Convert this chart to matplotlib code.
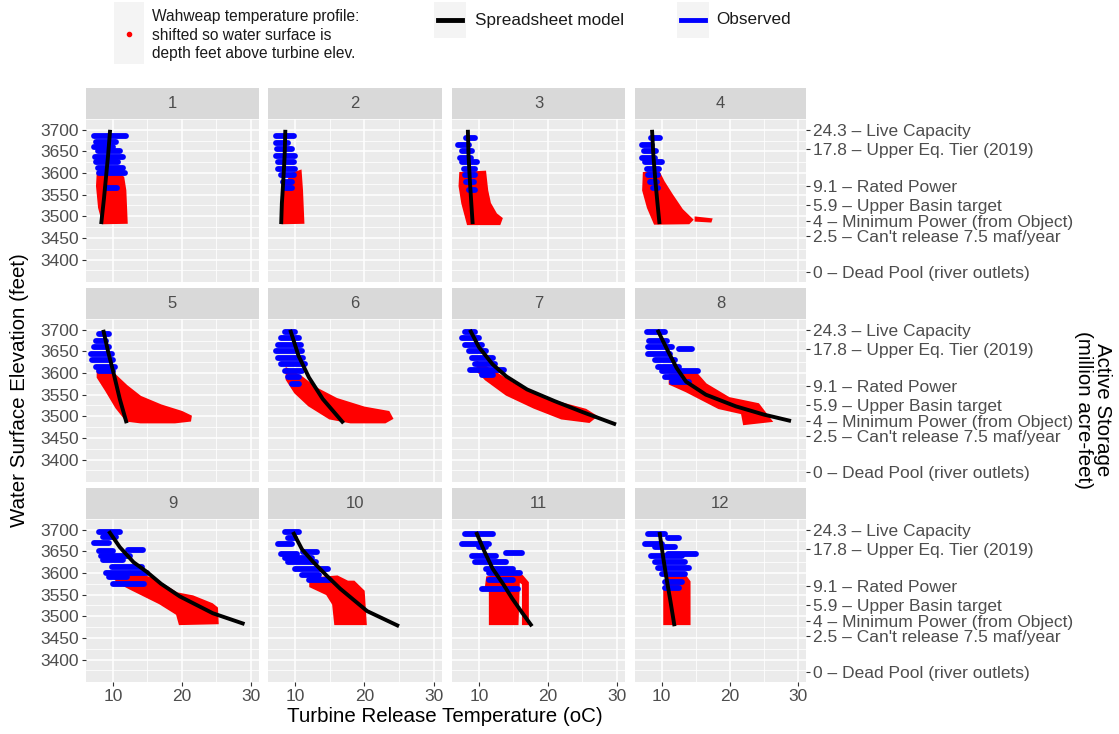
import matplotlib
matplotlib.use("Agg")
import matplotlib.pyplot as plt
from matplotlib.patches import Polygon, Rectangle
from matplotlib.lines import Line2D

plt.rcParams["font.family"] = ["Liberation Sans", "DejaVu Sans"]

W, H = 1119, 734

# spreadsheet model curve per month: (temperature oC, elevation ft)
MODEL = {
    1: [(9.6, 3700), (9.3, 3640), (9.0, 3590), (8.7, 3540), (8.3, 3482)],
    2: [(8.6, 3700), (8.5, 3640), (8.3, 3580), (8.1, 3530), (8.0, 3482)],
    3: [(8.4, 3700), (8.5, 3640), (8.7, 3580), (8.9, 3530), (9.1, 3482)],
    4: [(8.6, 3700), (8.8, 3640), (9.1, 3580), (9.4, 3530), (9.7, 3482)],
    5: [(8.6, 3700), (9.3, 3650), (10.1, 3600), (11.0, 3540), (12.0, 3484)],
    6: [(9.3, 3700), (10.5, 3640), (12.0, 3590), (14.0, 3540), (17.0, 3484)],
    7: [(8.7, 3700), (10.0, 3660), (12.0, 3620), (14.0, 3592), (17.0, 3562),
        (21.0, 3535), (25.0, 3510), (29.9, 3481)],
    8: [(9.4, 3700), (10.8, 3655), (12.2, 3612), (13.6, 3580), (16.5, 3550),
        (20.9, 3523), (25.0, 3504), (29.0, 3489)],
    9: [(9.4, 3697), (11.0, 3660), (13.0, 3625), (14.9, 3603), (17.0, 3575),
        (19.7, 3546), (24.5, 3507), (29.1, 3482)],
    10: [(9.7, 3695), (11.0, 3655), (12.6, 3626), (14.5, 3595), (16.5, 3564),
         (20.4, 3512), (25.0, 3477)],
    11: [(9.6, 3695), (10.8, 3650), (12.0, 3610), (13.5, 3575), (14.8, 3542),
         (16.2, 3510), (17.7, 3477)],
    12: [(9.7, 3695), (10.2, 3640), (10.7, 3590), (11.3, 3535), (11.9, 3477)],
}

# Wahweap profile cloud outlines per month
PROFILE = {
    1: [[(7.8, 3598), (10.5, 3600), (11.5, 3590), (11.8, 3560), (12.0, 3485),
         (8.6, 3484), (8.0, 3520), (7.7, 3570)]],
    2: [[(8.3, 3560), (9.5, 3598), (10.8, 3605), (11.0, 3560), (11.2, 3485),
         (8.2, 3484)]],
    3: [[(7.3, 3600), (10.9, 3603), (11.2, 3560), (11.6, 3530), (12.5, 3505),
         (13.3, 3495), (13.0, 3482), (8.4, 3482), (7.6, 3530), (7.2, 3570)]],
    4: [[(7.4, 3600), (9.6, 3602), (10.3, 3580), (11.5, 3550), (13.0, 3515),
         (14.5, 3492), (14.0, 3484), (9.0, 3483), (8.0, 3520), (7.3, 3560)],
        [(15.0, 3497), (17.3, 3493), (17.2, 3488), (15.0, 3490)]],
    5: [[(7.8, 3615), (10.0, 3600), (12.0, 3570), (14.0, 3545), (17.0, 3525),
         (20.0, 3510), (21.3, 3500), (21.2, 3490), (19.0, 3486), (14.0, 3486),
         (12.0, 3490), (10.5, 3520), (9.0, 3560), (7.8, 3590)]],
    6: [[(8.8, 3610), (11.0, 3590), (13.0, 3565), (16.0, 3540), (20.0, 3520),
         (23.5, 3510), (24.0, 3495), (23.0, 3486), (18.0, 3486), (15.0, 3495),
         (12.0, 3525), (10.0, 3555), (8.8, 3585)]],
    7: [[(9.8, 3625), (12.0, 3605), (15.0, 3575), (18.0, 3550), (22.0, 3530),
         (25.5, 3515), (27.0, 3500), (26.0, 3487), (22.0, 3495), (18.0, 3520),
         (14.0, 3550), (11.0, 3585), (9.8, 3605)]],
    8: [[(11.2, 3596), (15.1, 3599), (16.5, 3574), (19.9, 3542), (24.2, 3528),
         (26.1, 3489), (22.1, 3482), (21.8, 3507), (18.4, 3519), (13.6, 3558),
         (11.2, 3575)]],
    9: [[(10.0, 3599), (12.5, 3603), (16.1, 3585), (19.3, 3553), (21.6, 3546),
         (24.4, 3528), (25.1, 3519), (25.2, 3484), (19.7, 3482), (19.3, 3505),
         (16.8, 3530), (12.5, 3564), (10.6, 3580)]],
    10: [[(12.2, 3587), (16.1, 3592), (17.6, 3580), (18.5, 3580), (19.9, 3558),
          (20.2, 3482), (15.8, 3482), (15.5, 3528), (14.6, 3551), (12.2, 3569)]],
    11: [[(11.6, 3482), (11.6, 3560), (11.0, 3565), (11.2, 3590), (13.0, 3593),
          (16.3, 3593), (17.1, 3578), (17.1, 3482), (16.4, 3482), (16.4, 3575),
          (15.8, 3582), (15.6, 3482)]],
    12: [[(10.4, 3482), (10.4, 3560), (10.8, 3590), (13.5, 3593), (14.1, 3580),
          (14.1, 3482)]],
}

# observed releases per month: (temp from, temp to, elevation)
OBSERVED = {
    1: [(7.3, 11.9, 3685), (7.5, 10.5, 3672), (7.3, 10.0, 3660), (7.8, 11.0, 3650),
        (7.4, 11.5, 3638), (7.6, 10.8, 3625), (7.8, 11.5, 3612), (8.0, 11.8, 3600),
        (9.0, 10.6, 3565)],
    2: [(7.3, 9.8, 3685), (7.2, 9.0, 3670), (7.4, 9.6, 3655), (7.3, 10.0, 3640),
        (7.5, 9.8, 3625), (7.6, 10.0, 3610), (8.0, 9.8, 3595), (8.3, 9.6, 3580),
        (8.5, 9.5, 3565)],
    3: [(8.2, 9.5, 3680), (7.0, 8.5, 3665), (7.5, 9.0, 3650), (7.2, 8.8, 3635),
        (7.5, 9.7, 3625), (7.8, 9.5, 3610), (8.0, 9.4, 3595), (8.2, 9.3, 3580),
        (8.6, 9.4, 3560)],
    4: [(8.4, 9.8, 3680), (7.1, 8.6, 3665), (7.4, 9.2, 3650), (7.2, 9.0, 3635),
        (7.5, 10.0, 3625), (7.8, 9.6, 3610), (8.0, 9.5, 3595), (8.3, 9.4, 3580),
        (8.7, 9.5, 3565)],
    5: [(8.0, 9.5, 3690), (7.5, 9.0, 3675), (7.2, 9.5, 3660), (6.8, 9.8, 3645),
        (7.0, 10.0, 3630), (7.5, 10.3, 3615), (8.0, 10.0, 3605)],
    6: [(8.5, 10.0, 3695), (8.0, 10.5, 3680), (7.5, 10.8, 3665), (7.3, 11.0, 3650),
        (7.6, 11.2, 3635), (8.0, 11.5, 3620), (8.5, 11.0, 3605), (9.0, 10.5, 3590),
        (9.5, 10.5, 3575)],
    7: [(8.0, 9.5, 3695), (7.6, 10.0, 3680), (8.0, 10.5, 3665), (8.5, 11.0, 3650),
        (9.0, 12.0, 3635), (9.5, 12.3, 3620), (8.7, 13.7, 3608), (10.5, 12.0, 3595)],
    8: [(7.8, 10.5, 3695), (8.2, 10.8, 3675), (8.0, 11.5, 3660), (12.5, 14.5, 3655),
        (8.0, 11.2, 3645), (9.0, 12.0, 3630), (9.5, 12.5, 3615), (10.0, 15.3, 3605),
        (10.5, 12.5, 3590), (11.5, 14.0, 3580)],
    9: [(8.0, 11.0, 3695), (8.5, 10.5, 3683), (7.3, 9.5, 3670), (12.2, 14.4, 3654),
        (8.0, 10.0, 3650), (8.3, 12.5, 3640), (8.6, 11.5, 3630), (9.8, 14.2, 3615),
        (9.0, 15.0, 3600), (9.5, 12.0, 3590), (10.0, 14.5, 3575)],
    10: [(8.5, 10.5, 3695), (9.0, 10.0, 3680), (7.5, 9.5, 3668), (11.2, 13.2, 3649),
         (8.0, 10.3, 3645), (8.5, 12.5, 3635), (9.0, 13.0, 3625), (10.0, 14.8, 3610),
         (11.0, 13.5, 3595), (12.0, 15.0, 3585)],
    11: [(8.0, 12.0, 3690), (7.5, 11.5, 3668), (10.0, 11.0, 3660), (13.9, 16.2, 3647),
         (9.0, 12.5, 3640), (9.5, 14.0, 3625), (11.0, 15.0, 3610), (11.5, 16.0, 3600),
         (11.5, 15.0, 3585), (10.4, 15.7, 3564)],
    12: [(8.0, 10.5, 3690), (11.0, 12.5, 3680), (7.5, 10.0, 3668), (9.0, 12.0, 3660),
         (10.9, 15.1, 3645), (8.5, 13.0, 3640), (9.0, 13.5, 3625), (9.5, 14.0, 3612),
         (10.0, 13.5, 3598), (10.5, 13.0, 3580), (10.5, 12.5, 3565)],
}

# secondary axis: storage levels
STORAGE_ELEV = [3700, 3655, 3570, 3525, 3490, 3455, 3370]
STORAGE_LABELS = ["24.3 \u2013 Live Capacity", "17.8 \u2013 Upper Eq. Tier (2019)",
                  "9.1 \u2013 Rated Power", "5.9 \u2013 Upper Basin target",
                  "4 \u2013 Minimum Power (from Object)",
                  "2.5 \u2013 Can't release 7.5 maf/year",
                  "0 \u2013 Dead Pool (river outlets)"]

RED, BLUE = "#FF0000", "#0000FF"
PANEL_BG, STRIP_BG = "#EBEBEB", "#D9D9D9"
XLIM, YLIM = (6.1, 31.2), (3348, 3720)
COLS = [(86, 259), (268, 442), (452, 625), (635, 806)]
ROWS = [(88, 119, 282), (288, 319, 482), (488, 519, 682)]


def box(x0, y0, x1, y1):
    return [x0 / W, 1 - y1 / H, (x1 - x0) / W, (y1 - y0) / H]


fig = plt.figure(figsize=(W / 100, H / 100), dpi=100)

for i, m in enumerate(range(1, 13)):
    r, c = divmod(i, 4)
    x0, x1 = COLS[c]
    st, y0, y1 = ROWS[r]
    ax = fig.add_axes(box(x0, y0, x1, y1))
    ax.set_facecolor(PANEL_BG)
    ax.set_xlim(*XLIM); ax.set_ylim(*YLIM)
    for s in ax.spines.values():
        s.set_visible(False)
    ax.set_xticks([10, 20, 30]); ax.set_xticks([15, 25], minor=True)
    ax.set_yticks(range(3400, 3701, 50)); ax.set_yticks(range(3375, 3726, 50), minor=True)
    ax.grid(which="major", color="white", lw=1.1)
    ax.grid(which="minor", color="white", lw=0.55)
    ax.set_axisbelow(True)
    ax.tick_params(which="minor", length=0)
    ax.tick_params(which="major", length=3, color="#333333", labelcolor="#4D4D4D",
                   labelsize=12.5, pad=2)
    if r < 2:
        ax.tick_params(axis="x", length=0, labelbottom=False)
    if c > 0:
        ax.tick_params(axis="y", length=0, labelleft=False)

    for poly in PROFILE[m]:
        ax.add_patch(Polygon(poly, closed=True, facecolor=RED, edgecolor=RED,
                             lw=1.5, zorder=2))
    for t0, t1, e in OBSERVED[m]:
        ax.plot([t0, t1], [e, e], color=BLUE, lw=4.2, solid_capstyle="round", zorder=3)
    mt = [p[0] for p in MODEL[m]]
    me = [p[1] for p in MODEL[m]]
    ax.plot(mt, me, color="black", lw=2.8, solid_capstyle="butt", zorder=4)

    if c == 3:
        sec = ax.secondary_yaxis("right")
        sec.set_yticks(STORAGE_ELEV, labels=STORAGE_LABELS)
        sec.tick_params(length=3, color="#333333", labelcolor="#4D4D4D",
                        labelsize=12.5, pad=2)
        sec.spines["right"].set_visible(False)

    sax = fig.add_axes(box(x0, st, x1, y0))
    sax.set_facecolor(STRIP_BG)
    sax.set_xticks([]); sax.set_yticks([])
    for s in sax.spines.values():
        s.set_visible(False)
    sax.text(0.5, 0.5, str(m), ha="center", va="center", fontsize=12,
             color="#4D4D4D", transform=sax.transAxes)

# axis titles
fig.text(20 / W, 1 - 390 / H, "Water Surface Elevation (feet)", rotation=90,
         ha="center", va="center", fontsize=14.8, color="black")
fig.text(445 / W, 1 - 717 / H, "Turbine Release Temperature (oC)",
         ha="center", va="center", fontsize=14.8, color="black")
fig.text(1093 / W, 1 - 410 / H, "Active Storage\n(million acre-feet)", rotation=-90,
         ha="center", va="center", fontsize=14.8, color="black", linespacing=1.05)

# legend
fig.add_artist(Rectangle((114 / W, 1 - 64 / H), 30 / W, 62 / H, transform=fig.transFigure,
                         facecolor="#F4F4F4", edgecolor="none"))
fig.add_artist(Line2D([129 / W], [1 - 34 / H], marker="o", ms=3, color=RED,
                      transform=fig.transFigure))
fig.text(152 / W, 1 - 35 / H,
         "Wahweap temperature profile:\nshifted so water surface is\ndepth feet above turbine elev.",
         ha="left", va="center", fontsize=11.2, color="#1A1A1A", linespacing=1.3)
for kx, tx, col, lab in [(438, 475, "black", "Spreadsheet model"),
                         (681, 716, BLUE, "Observed")]:
    fig.add_artist(Rectangle(((kx - 4) / W, 1 - 38 / H), 32 / W, 36 / H,
                             transform=fig.transFigure, facecolor="#F4F4F4",
                             edgecolor="none"))
    fig.add_artist(Line2D([kx / W, (kx + 24) / W], [1 - 20 / H, 1 - 20 / H], color=col,
                          lw=3.5, transform=fig.transFigure))
    fig.text(tx / W, 1 - 20 / H, lab, ha="left", va="center", fontsize=12.3,
             color="#1A1A1A")

fig.savefig("out.png", dpi=100)
